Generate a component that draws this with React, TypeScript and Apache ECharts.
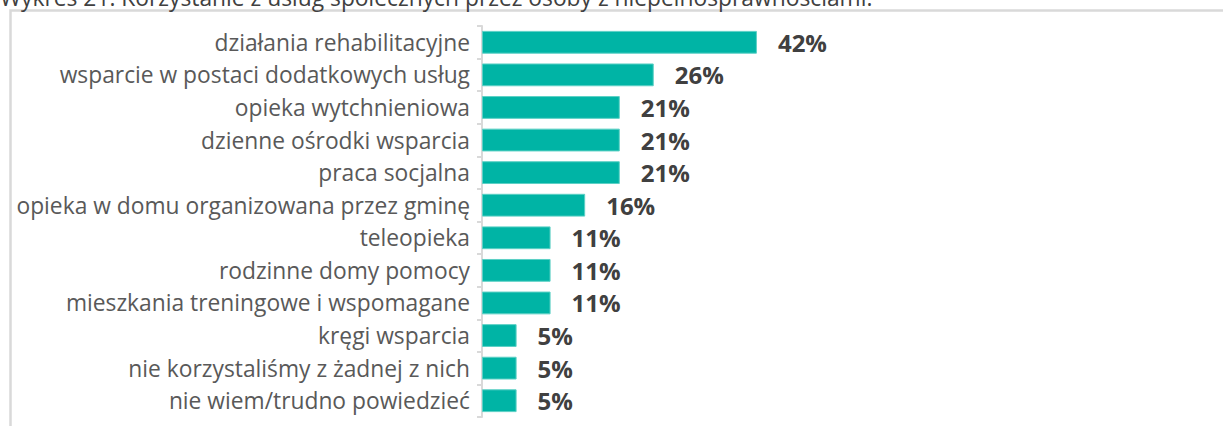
import React, { useEffect, useRef } from "react";
import * as echarts from "echarts";

const titleText = "Wykres 21. Korzystanie z usług społecznych przez osoby z niepełnosprawnościami.";
const categories = [
  "działania rehabilitacyjne",
  "wsparcie w postaci dodatkowych usług",
  "opieka wytchnieniowa",
  "dzienne ośrodki wsparcia",
  "praca socjalna",
  "opieka w domu organizowana przez gminę",
  "teleopieka",
  "rodzinne domy pomocy",
  "mieszkania treningowe i wspomagane",
  "kręgi wsparcia",
  "nie korzystaliśmy z żadnej z nich",
  "nie wiem/trudno powiedzieć",
];
const values = [42.1, 26.3, 21.1, 21.1, 21.1, 15.8, 10.5, 10.5, 10.5, 5.3, 5.3, 5.3];

const FONT = "'Open Sans', 'DejaVu Sans', sans-serif";

export default function App() {
  const ref = useRef<HTMLDivElement>(null);
  useEffect(() => {
    if (!ref.current) return;
    const chart = echarts.init(ref.current, undefined, { renderer: "svg" });
    chart.setOption({
      animation: false,
      backgroundColor: "#ffffff",
      graphic: [
        {
          type: "rect",
          shape: { x: 10.5, y: 10.5, width: 1400, height: 600 },
          style: { fill: "none", stroke: "#d9d9d9", lineWidth: 2.5 },
          silent: true,
        },
        {
          type: "text",
          x: 0,
          y: -3,
          style: {
            text: titleText,
            font: `22.8px ${FONT}`,
            fill: "#404040",
            verticalAlign: "middle",
            align: "left",
          },
          silent: true,
        },
      ],
      grid: { left: 482, right: 414.5, top: 26, bottom: 9, containLabel: false },
      xAxis: {
        type: "value",
        min: 0,
        max: 50,
        show: false,
      },
      yAxis: {
        type: "category",
        data: categories,
        inverse: true,
        axisLine: { show: true, lineStyle: { color: "#d9d9d9", width: 2 } },
        axisTick: { show: true, length: 5, lineStyle: { color: "#d9d9d9", width: 2 } },
        axisLabel: {
          margin: 12,
          color: "#595959",
          fontSize: 22.8,
          fontFamily: FONT,
        },
      },
      series: [
        {
          type: "bar",
          data: values,
          barCategoryGap: "30%",
          itemStyle: { color: "#00b4a5", borderColor: "#5cd0c5", borderWidth: 1 },
          label: {
            show: true,
            position: "right",
            distance: 21,
            formatter: (p: any) => Math.round(p.value) + "%",
            color: "#404040",
            fontSize: 24,
            fontWeight: "bold",
            fontFamily: FONT,
          },
        },
      ],
    });
    return () => chart.dispose();
  }, []);
  return (
    <div
      ref={ref}
      style={{ position: "fixed", left: 0, top: 0, width: 1223, height: 426 }}
    />
  );
}
